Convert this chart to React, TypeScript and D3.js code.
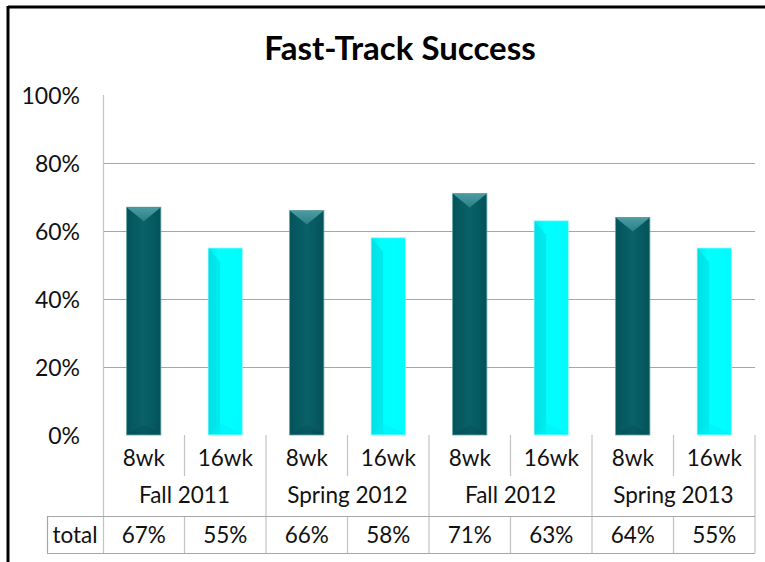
import { useEffect, useRef } from "react";
import * as d3 from "d3";

const terms = ["Fall 2011", "Spring 2012", "Fall 2012", "Spring 2013"];
const tracks = ["8wk", "16wk"];
const values = [0.67, 0.55, 0.66, 0.58, 0.71, 0.63, 0.64, 0.55];
const yTicks = [0, 0.2, 0.4, 0.6, 0.8, 1];
const rowLabel = "total";

const FONT = "Lato, 'Open Sans', sans-serif";
const FS = "22.5px";

export default function App() {
  const svgRef = useRef<SVGSVGElement | null>(null);

  useEffect(() => {
    if (!svgRef.current) return;
    const svg = d3.select(svgRef.current);
    svg.selectAll("*").remove();

    const width = 765;
    const height = 562;
    const margin = { top: 95, left: 103, right: 10, bottom: 127 };
    const plotBottom = height - margin.bottom; // 435
    const tableLeft = 47;

    // one slot per bar: term x track
    const slots = terms.flatMap((t) => tracks.map((k) => `${t}|${k}`));

    const x = d3.scaleBand().domain(slots).range([margin.left, width - margin.right]).padding(0);
    const y = d3.scaleLinear().domain([0, 1]).range([plotBottom, margin.top]);
    const bw = x.bandwidth();
    const barW = bw * 0.42;

    // frame
    svg.append("line").attr("x1", 8).attr("x2", width).attr("y1", 7).attr("y2", 7)
      .attr("stroke", "#000").attr("stroke-width", 3);
    svg.append("line").attr("x1", 8).attr("x2", 8).attr("y1", 6).attr("y2", height)
      .attr("stroke", "#000").attr("stroke-width", 3);

    // title
    svg.append("text").text("Fast-Track Success")
      .attr("x", 400).attr("y", 60).attr("text-anchor", "middle")
      .style("font-family", FONT).style("font-weight", "bold").style("font-size", "33px");

    // gridlines (no line at 0 or 100)
    svg.append("g").selectAll("line").data(yTicks.filter((d) => d > 0 && d < 1)).join("line")
      .attr("x1", margin.left).attr("x2", width - margin.right)
      .attr("y1", (d) => Math.round(y(d)) + 0.5).attr("y2", (d) => Math.round(y(d)) + 0.5)
      .attr("stroke", "#a6a6a6").attr("stroke-width", 1.2);

    // y labels
    svg.append("g").selectAll("text").data(yTicks).join("text")
      .attr("x", 80).attr("y", (d) => y(d) + 1).attr("dy", "0.36em").attr("text-anchor", "end")
      .text((d) => d3.format(".0%")(d))
      .style("font-family", FONT).style("font-size", "23px").attr("fill", "#111");

    // defs
    const defs = svg.append("defs");
    const gDark = defs.append("linearGradient").attr("id", "gDark").attr("x1", 0).attr("x2", 1);
    gDark.append("stop").attr("offset", 0).attr("stop-color", "#02545a");
    gDark.append("stop").attr("offset", 0.5).attr("stop-color", "#0a6168");
    gDark.append("stop").attr("offset", 1).attr("stop-color", "#035359");
    const gLight = defs.append("linearGradient").attr("id", "gLight").attr("x1", 0).attr("x2", 1);
    gLight.append("stop").attr("offset", 0).attr("stop-color", "#00e8ee");
    gLight.append("stop").attr("offset", 0.3).attr("stop-color", "#00ffff");
    gLight.append("stop").attr("offset", 1).attr("stop-color", "#00fbff");
    const gCap = defs.append("linearGradient").attr("id", "gCap").attr("x1", 0).attr("x2", 0).attr("y1", 0).attr("y2", 1);
    gCap.append("stop").attr("offset", 0).attr("stop-color", "#4b9ca1");
    gCap.append("stop").attr("offset", 1).attr("stop-color", "#2a7f85");

    // bars
    const bars = svg.append("g");
    slots.forEach((s, i) => {
      const v = values[i];
      const x0 = x(s)! + (bw - barW) / 2;
      const x1 = x0 + barW;
      const top = y(v);
      const dark = i % 2 === 0;
      bars.append("rect").attr("x", x0).attr("y", top).attr("width", barW).attr("height", plotBottom - top)
        .attr("fill", dark ? "url(#gDark)" : "url(#gLight)")
        .attr("stroke", dark ? "#5f9ea2" : "#9ff7f7").attr("stroke-width", 0.8);
      if (dark) {
        const d = d3.path();
        d.moveTo(x0 + 0.5, top + 0.5);
        d.lineTo(x1 - 0.5, top + 0.5);
        d.lineTo((x0 + x1) / 2, top + 14);
        d.closePath();
        bars.append("path").attr("d", d.toString()).attr("fill", "url(#gCap)");
        const b = d3.path();
        b.moveTo(x0 + 1, plotBottom - 1);
        b.lineTo(x0 + barW * 0.5, plotBottom - 10);
        b.lineTo(x1 - 1, plotBottom - 1);
        b.closePath();
        bars.append("path").attr("d", b.toString()).attr("fill", "#02474c").attr("opacity", 0.3);
      } else {
        const d = d3.path();
        d.moveTo(x0 + 0.5, top + 0.5);
        d.lineTo(x0 + 12, top + 14);
        d.lineTo(x0 + 12, plotBottom - 1);
        d.lineTo(x0 + 0.5, plotBottom - 1);
        d.closePath();
        bars.append("path").attr("d", d.toString()).attr("fill", "#00d8de").attr("opacity", 0.55);
        const b = d3.path();
        b.moveTo(x0 + 1, plotBottom - 1);
        b.lineTo(x0 + 12, plotBottom - 12);
        b.lineTo(x1 - 1, plotBottom - 1);
        b.closePath();
        bars.append("path").attr("d", b.toString()).attr("fill", "#00f0f4").attr("opacity", 0.5);
      }
    });

    // category axis area
    const row1 = 458, row2 = 495, row3 = 535;
    const innerBottom = 476, groupBottom = 516, tableBottom = 553;
    const axis = svg.append("g");
    const txt = (t: string, cx: number, cy: number) =>
      axis.append("text").text(t).attr("x", cx).attr("y", cy).attr("dy", "0.36em")
        .attr("text-anchor", "middle").style("font-family", FONT).style("font-size", FS).attr("fill", "#111");
    // left axis line
    axis.append("line").attr("x1", margin.left + 0.5).attr("x2", margin.left + 0.5)
      .attr("y1", margin.top).attr("y2", tableBottom).attr("stroke", "#c3c3c3").attr("stroke-width", 1.2);
    slots.forEach((s, i) => {
      const xr = x(s)! + bw;
      const isGroupEnd = i % 2 === 1;
      axis.append("line").attr("x1", xr).attr("x2", xr)
        .attr("y1", plotBottom).attr("y2", isGroupEnd ? tableBottom : innerBottom)
        .attr("stroke", "#c3c3c3").attr("stroke-width", 1.2);
      if (!isGroupEnd) {
        axis.append("line").attr("x1", xr).attr("x2", xr).attr("y1", groupBottom).attr("y2", tableBottom)
          .attr("stroke", "#c3c3c3").attr("stroke-width", 1.2);
      }
      txt(tracks[i % 2], x(s)! + bw / 2, row1);
      txt(d3.format(".0%")(values[i]), x(s)! + bw / 2, row3);
    });
    terms.forEach((t) => txt(t, x(`${t}|${tracks[1]}`)!, row2));
    // table borders
    [groupBottom, tableBottom].forEach((yy) => {
      axis.append("line").attr("x1", tableLeft).attr("x2", width - margin.right).attr("y1", yy + 0.5).attr("y2", yy + 0.5)
        .attr("stroke", "#a6a6a6").attr("stroke-width", 1.2);
    });
    axis.append("line").attr("x1", tableLeft + 0.5).attr("x2", tableLeft + 0.5).attr("y1", groupBottom).attr("y2", tableBottom)
      .attr("stroke", "#a6a6a6").attr("stroke-width", 1.2);
    txt(rowLabel, (tableLeft + margin.left) / 2, row3);
  }, []);

  return <svg ref={svgRef} width={765} height={562} style={{ position: "absolute", left: 0, top: 0, background: "#fff" }} />;
}
